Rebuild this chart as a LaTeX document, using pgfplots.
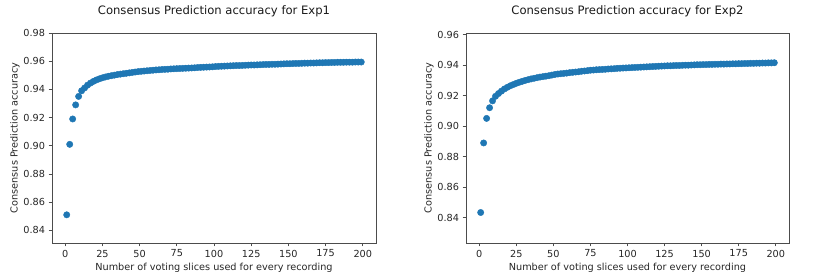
\documentclass[border=0pt]{standalone}
\usepackage{pgfplots}
\pgfplotsset{compat=1.18}
\usepackage{pgfplotstable}
\usepackage{fontspec}
\setmainfont{DejaVu Sans}
\definecolor{mplblue}{HTML}{1F77B4}

\pgfplotstableread{
x y
1 0.851
3 0.901
5 0.919
7 0.929
9 0.935
11 0.939
13 0.941
15 0.943
17 0.9445
19 0.9457
21 0.9467
23 0.9475
25 0.9482
27 0.9488
29 0.9493
31 0.9497
33 0.9501
35 0.9505
37 0.9508
39 0.9511
41 0.9514
43 0.9517
45 0.9520
47 0.9523
49 0.9526
51 0.9528
53 0.9530
55 0.9532
57 0.9534
59 0.9536
61 0.9538
63 0.9539
65 0.9541
67 0.9542
69 0.9543
71 0.9545
73 0.9546
75 0.9547
77 0.9548
79 0.9549
81 0.9550
83 0.9551
85 0.9552
87 0.9553
89 0.9555
91 0.9556
93 0.9557
95 0.9558
97 0.9559
99 0.9560
101 0.9562
103 0.9563
105 0.9564
107 0.9565
109 0.9566
111 0.9567
113 0.9568
115 0.9569
117 0.9569
119 0.9570
121 0.9571
123 0.9572
125 0.9573
127 0.9573
129 0.9574
131 0.9575
133 0.9576
135 0.9577
137 0.9577
139 0.9578
141 0.9578
143 0.9579
145 0.9580
147 0.9581
149 0.9582
151 0.9582
153 0.9583
155 0.9584
157 0.9584
159 0.9585
161 0.9586
163 0.9586
165 0.9587
167 0.9587
169 0.9588
171 0.9589
173 0.9589
175 0.9590
177 0.9590
179 0.9591
181 0.9591
183 0.9592
185 0.9592
187 0.9592
189 0.9593
191 0.9593
193 0.9593
195 0.9594
197 0.9594
199 0.9594
}\expone

\pgfplotstableread{
x y
1 0.8433
3 0.8889
5 0.9050
7 0.9120
9 0.9165
11 0.9195
13 0.9213
15 0.9229
17 0.9243
19 0.9254
21 0.9264
23 0.9272
25 0.9280
27 0.9287
29 0.9293
31 0.9299
33 0.9304
35 0.9309
37 0.9313
39 0.9317
41 0.9321
43 0.9324
45 0.9327
47 0.9330
49 0.9334
51 0.9338
53 0.9341
55 0.9343
57 0.9345
59 0.9347
61 0.9350
63 0.9352
65 0.9354
67 0.9356
69 0.9359
71 0.9361
73 0.9363
75 0.9366
77 0.9367
79 0.9369
81 0.9370
83 0.9371
85 0.9372
87 0.9374
89 0.9375
91 0.9376
93 0.9378
95 0.9379
97 0.9380
99 0.9381
101 0.9382
103 0.9383
105 0.9384
107 0.9385
109 0.9386
111 0.9387
113 0.9388
115 0.9389
117 0.9390
119 0.9391
121 0.9392
123 0.9393
125 0.9394
127 0.9395
129 0.9395
131 0.9396
133 0.9397
135 0.9397
137 0.9398
139 0.9399
141 0.9399
143 0.9400
145 0.9401
147 0.9402
149 0.9402
151 0.9403
153 0.9403
155 0.9404
157 0.9404
159 0.9405
161 0.9405
163 0.9406
165 0.9406
167 0.9407
169 0.9407
171 0.9408
173 0.9408
175 0.9409
177 0.9409
179 0.9410
181 0.9410
183 0.9411
185 0.9411
187 0.9412
189 0.9412
191 0.9413
193 0.9413
195 0.9414
197 0.9414
199 0.9415
}\exptwo

\pgfplotsset{
  mystyle/.style={
    scale only axis, height=210bp,
    xmin=-8.9, xmax=208.9,
    xtick={0,25,50,75,100,125,150,175,200},
    axis line style={black!70, line width=0.8bp},
    tick style={black!70, line width=0.8bp},
    tick align=outside, tick pos=left,
    major tick length=3.4bp,
    /pgf/number format/assume math mode=true,
    ticklabel style={font=\fontsize{9.7bp}{11bp}\selectfont, text=black!85},
    yticklabel style={/pgf/number format/fixed, /pgf/number format/fixed zerofill, /pgf/number format/precision=2},
    scaled y ticks=false,
    label style={font=\fontsize{9.7bp}{11bp}\selectfont, text=black!85},
    every axis title shift=0pt,
    title style={font=\fontsize{11.6bp}{13bp}\selectfont, text=black!90, anchor=base, at={([yshift=18bp]axis description cs:0.5,1)}},
    xlabel style={anchor=base, at={([yshift=-27bp]axis description cs:0.5,0)}},
    ylabel style={anchor=base, at={([xshift=-34.5bp]axis description cs:0,0.5)}},
    clip=false,
    xlabel={Number of voting slices used for every recording},
    ylabel={Consensus Prediction accuracy},
  },
  mymarks/.style={only marks, mark=*, mark size=3.2bp, mark options={fill=mplblue, draw=mplblue, line width=0.4bp}},
}

\begin{document}
\begin{tikzpicture}
\path (0,0) rectangle (830bp,278bp);
\begin{axis}[mystyle, at={(52bp,35bp)}, anchor=south west, width=324bp,
  ymin=0.831, ymax=0.98,
  ytick={0.84,0.86,0.88,0.90,0.92,0.94,0.96,0.98},
  title={Consensus Prediction accuracy for Exp1}]
\addplot[mymarks] table[x=x,y=y] {\expone};
\end{axis}
\begin{axis}[mystyle, at={(466bp,35bp)}, anchor=south west, width=323bp,
  ymin=0.8233, ymax=0.961,
  ytick={0.84,0.86,0.88,0.90,0.92,0.94,0.96},
  title={Consensus Prediction accuracy for Exp2}]
\addplot[mymarks] table[x=x,y=y] {\exptwo};
\end{axis}
\end{tikzpicture}
\end{document}
